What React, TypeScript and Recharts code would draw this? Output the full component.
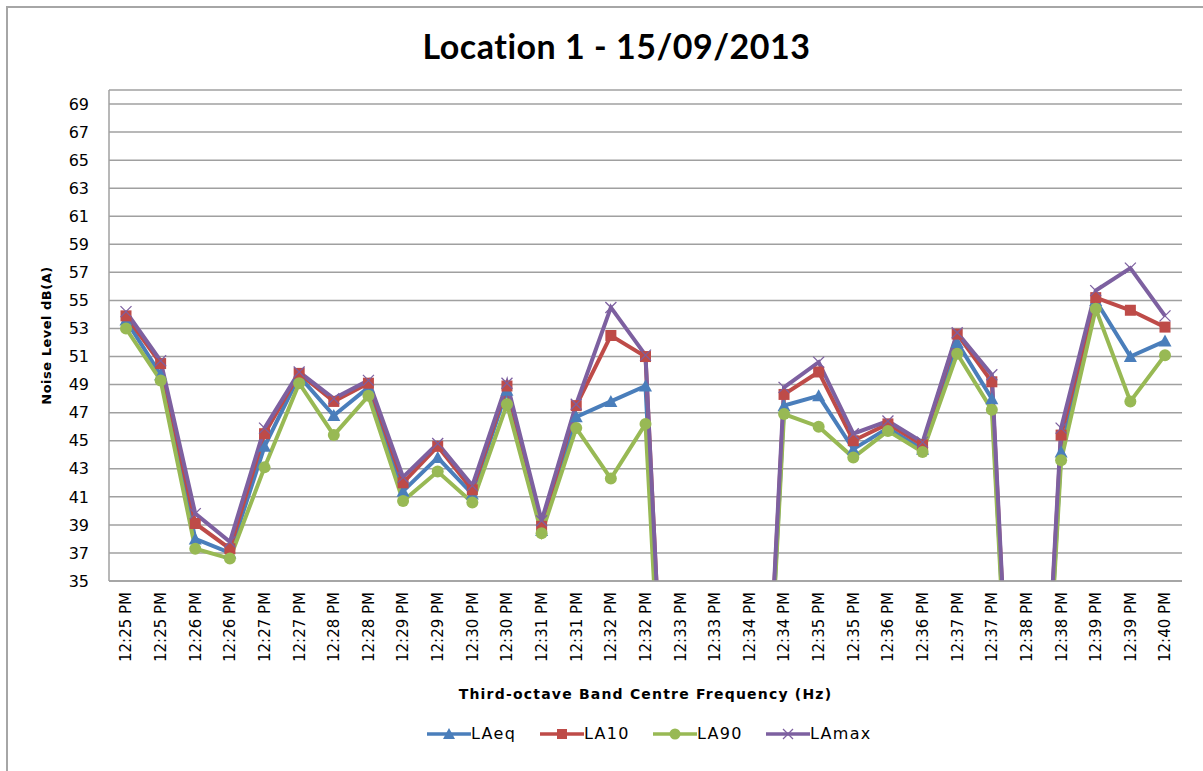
import { LineChart, Line, XAxis, YAxis, CartesianGrid, Legend } from "recharts"

const times = [
  "12:25 PM", "12:25 PM", "12:26 PM", "12:26 PM", "12:27 PM", "12:27 PM",
  "12:28 PM", "12:28 PM", "12:29 PM", "12:29 PM", "12:30 PM", "12:30 PM",
  "12:31 PM", "12:31 PM", "12:32 PM", "12:32 PM", "12:33 PM", "12:33 PM",
  "12:34 PM", "12:34 PM", "12:35 PM", "12:35 PM", "12:36 PM", "12:36 PM",
  "12:37 PM", "12:37 PM", "12:38 PM", "12:38 PM", "12:39 PM", "12:39 PM",
  "12:40 PM",
]

// gaps in the logger show up as 0 and fall off the bottom of the axis
const laeq = [
  53.6, 49.7, 38.0, 37.0, 44.6, 49.6, 46.8, 48.8, 41.4, 43.8, 41.2, 48.6,
  38.6, 46.7, 47.8, 48.9, 0, 0, 0, 47.5, 48.2, 44.4, 45.9, 44.4,
  52.0, 48.0, 0, 44.2, 55.0, 51.0, 52.1,
]
const la10 = [
  53.9, 50.5, 39.1, 37.3, 45.5, 49.8, 47.8, 49.1, 42.0, 44.6, 41.5, 48.9,
  38.9, 47.5, 52.5, 51.0, 0, 0, 0, 48.3, 49.9, 45.0, 46.2, 44.7,
  52.6, 49.2, 0, 45.4, 55.2, 54.3, 53.1,
]
const la90 = [
  53.0, 49.3, 37.3, 36.6, 43.1, 49.1, 45.4, 48.2, 40.7, 42.8, 40.6, 47.6,
  38.4, 45.9, 42.3, 46.2, 0, 0, 0, 46.9, 46.0, 43.8, 45.7, 44.2,
  51.2, 47.2, 0, 43.6, 54.4, 47.8, 51.1,
]
const lamax = [
  54.2, 50.7, 39.8, 37.8, 45.9, 49.9, 48.0, 49.3, 42.4, 44.8, 41.8, 49.1,
  39.3, 47.6, 54.5, 51.1, 0, 0, 0, 48.8, 50.6, 45.5, 46.4, 44.9,
  52.7, 49.7, 0, 45.9, 55.7, 57.3, 53.9,
]

const yTicks = [35, 37, 39, 41, 43, 45, 47, 49, 51, 53, 55, 57, 59, 61, 63, 65, 67, 69]

const data = times.map((t, i) => ({
  time: t,
  LAeq: laeq[i],
  LA10: la10[i],
  LA90: la90[i],
  LAmax: lamax[i],
}))

const SERIES = [
  { key: "LAeq", color: "#4a7ebb", shape: "triangle" },
  { key: "LA10", color: "#be4b48", shape: "square" },
  { key: "LA90", color: "#98b954", shape: "circle" },
  { key: "LAmax", color: "#7d60a0", shape: "cross" },
]

const FONT = "'DejaVu Sans', Verdana, sans-serif"

function Marker({ cx, cy, shape, color, size = 11 }: any) {
  if (cx == null || cy == null) return null
  const h = size / 2
  if (shape === "triangle") {
    return <polygon points={`${cx},${cy - h - 1} ${cx - h - 1},${cy + h} ${cx + h + 1},${cy + h}`} fill={color} />
  }
  if (shape === "square") {
    return <rect x={cx - h} y={cy - h} width={size} height={size} fill={color} />
  }
  if (shape === "circle") {
    return <circle cx={cx} cy={cy} r={h + 0.5} fill={color} />
  }
  return (
    <g stroke={color} strokeWidth={1.3}>
      <line x1={cx - h} y1={cy - h} x2={cx + h} y2={cy + h} />
      <line x1={cx - h} y1={cy + h} x2={cx + h} y2={cy - h} />
    </g>
  )
}

function TimeTick({ x, y, payload }: any) {
  return (
    <g transform={`translate(${x},${y})`}>
      <text transform="rotate(-90)" textAnchor="end" dy="0.36em" fontSize={15} fill="#000" fontFamily={FONT}>
        {payload.value}
      </text>
    </g>
  )
}

function LegendContent() {
  return (
    <div style={{ display: "flex", paddingLeft: 427, fontFamily: FONT, fontSize: 16, letterSpacing: 1.3 }}>
      {SERIES.map((s) => (
        <div key={s.key} style={{ display: "flex", alignItems: "center", width: 113 }}>
          <svg width={44} height={14}>
            <line x1={0} y1={7} x2={44} y2={7} stroke={s.color} strokeWidth={3.5} />
            <Marker cx={22} cy={7} shape={s.shape} color={s.color} size={10} />
          </svg>
          <span style={{ color: "#000" }}>{s.key}</span>
        </div>
      ))}
    </div>
  )
}

export default function App() {
  return (
    <div style={{ position: "absolute", left: 0, top: 0, width: 1203, height: 771, background: "#fff", overflow: "hidden" }}>
      <div
        style={{
          position: "absolute",
          left: 6,
          top: 6,
          width: 1203,
          height: 771,
          borderTop: "2px solid #a6a6a6",
          borderLeft: "2px solid #a6a6a6",
        }}
      />
      <div
        style={{
          position: "absolute",
          top: 25,
          width: 1233,
          textAlign: "center",
          fontFamily: "Lato, sans-serif",
          fontWeight: 700,
          fontSize: 34,
          letterSpacing: 0.5,
          color: "#000",
        }}
      >
        Location 1 - 15/09/2013
      </div>
      <div style={{ position: "absolute", left: 0, top: 0 }}>
        <LineChart width={1203} height={771} data={data} margin={{ top: 90, right: 21, bottom: 70, left: 0 }}>
          <CartesianGrid vertical={false} stroke="#a0a0a0" strokeWidth={1.5} />
          <XAxis
            dataKey="time"
            interval={0}
            height={120}
            padding={{ left: 17, right: 17 }}
            tickLine={false}
            tickSize={6}
            tickMargin={5}
            tick={<TimeTick />}
            axisLine={{ stroke: "#a0a0a0", strokeWidth: 1.5 }}
            label={{
              value: "Third-octave  Band Centre Frequency (Hz)",
              position: "insideBottom",
              offset: 2,
              style: { fontFamily: FONT, fontWeight: 700, fontSize: 14, letterSpacing: 1.2, fill: "#000" },
            }}
          />
          <YAxis
            type="number"
            domain={[35, 70]}
            ticks={yTicks}
            allowDataOverflow
            width={109}
            tickLine={false}
            tickMargin={14}
            axisLine={{ stroke: "#a0a0a0", strokeWidth: 1.5 }}
            tick={{ fontFamily: FONT, fontSize: 16, fill: "#000" }}
            label={{
              value: "Noise Level dB(A)",
              angle: -90,
              position: "insideLeft",
              offset: 46,
              style: { fontFamily: FONT, fontWeight: 700, fontSize: 13, letterSpacing: 0.5, fill: "#000", textAnchor: "middle" },
            }}
          />
          {SERIES.map((s) => (
            <Line
              key={s.key}
              dataKey={s.key}
              stroke={s.color}
              strokeWidth={4}
              isAnimationActive={false}
              dot={(p: any) => <Marker key={`${s.key}-${p.index}`} cx={p.cx} cy={p.cy} shape={s.shape} color={s.color} />}
              activeDot={false}
            />
          ))}
          <Legend
            layout="horizontal"
            verticalAlign="middle"
            align="center"
            wrapperStyle={{ top: 724, left: 0, width: 1203 }}
            content={<LegendContent />}
          />
        </LineChart>
      </div>
    </div>
  )
}
